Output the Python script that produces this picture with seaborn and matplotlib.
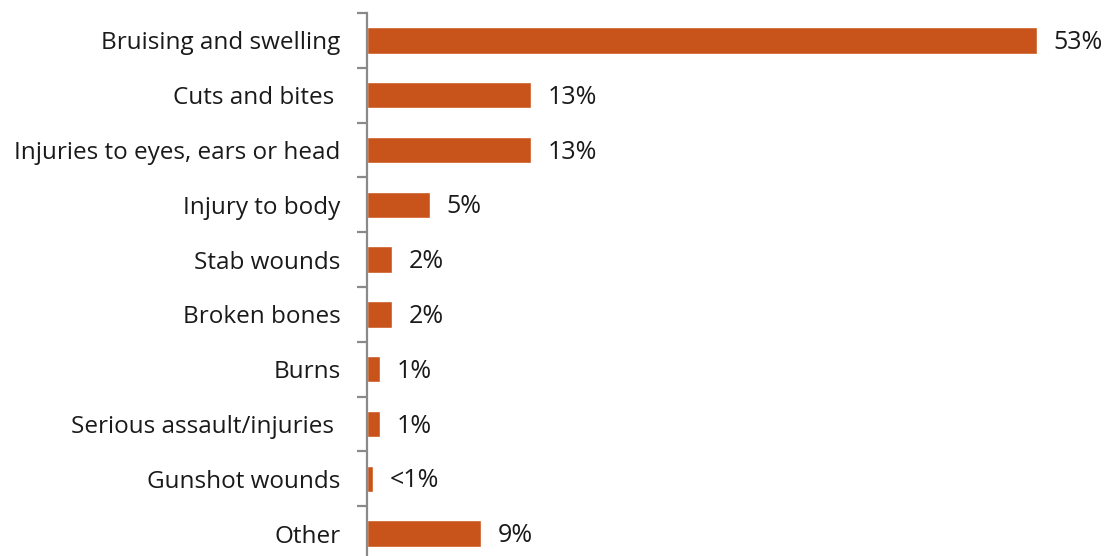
import matplotlib
matplotlib.use("Agg")
import matplotlib.pyplot as plt
import seaborn as sns
import pandas as pd
import numpy as np

categories = [
    "Bruising and swelling",
    "Cuts and bites ",
    "Injuries to eyes, ears or head",
    "Injury to body",
    "Stab wounds",
    "Broken bones",
    "Burns",
    "Serious assault/injuries ",
    "Gunshot wounds",
    "Other",
]
values = [53, 13, 13, 5, 2, 2, 1, 1, 0.5, 9]
value_labels = ["53%", "13%", "13%", "5%", "2%", "2%", "1%", "1%", "<1%", "9%"]

sns.set_style("white")
plt.rcParams["font.family"] = ["Open Sans", "DejaVu Sans"]

W, H = 1107, 556
fig = plt.figure(figsize=(W / 100, H / 100), dpi=100)
x0, x_per_unit = 367, 670 / 53
xmax = 55
top, row = 13, 54.8
ax_h = row * len(categories)
ax = fig.add_axes([x0 / W, (H - top - ax_h) / H, x_per_unit * xmax / W, ax_h / H])

df = pd.DataFrame({"cat": categories, "val": values})
sns.barplot(data=df, x="val", y="cat", orient="h", color="#C9541B",
            saturation=1, width=0.48, ax=ax)

ax.set_xlim(0, xmax)
ax.set_ylim(len(categories) - 0.5, -0.5)
ax.set_xlabel("")
ax.set_ylabel("")
ax.set_xticks([])

for s in ["top", "right", "bottom"]:
    ax.spines[s].set_visible(False)
ax.spines["left"].set_color("#8a8a8a")
ax.spines["left"].set_linewidth(1.6)

# category labels centred on bars, boundary ticks between rows
ax.set_yticks(range(len(categories)))
ax.set_yticklabels(categories, fontsize=17.5, color="#1a1a1a")
ax.tick_params(axis="y", which="major", left=False, length=0, pad=19)
ax.set_yticks(np.arange(-0.5, len(categories), 1), minor=True)
ax.tick_params(axis="y", which="minor", left=True, length=7, width=1.6,
               color="#8a8a8a", direction="out")

for i, (v, lab) in enumerate(zip(values, value_labels)):
    ax.annotate(lab, xy=(v, i), xytext=(12, -1.5), textcoords="offset points",
                ha="left", va="center", fontsize=18, color="#1a1a1a",
                annotation_clip=False)

fig.savefig("out.png", dpi=100)
